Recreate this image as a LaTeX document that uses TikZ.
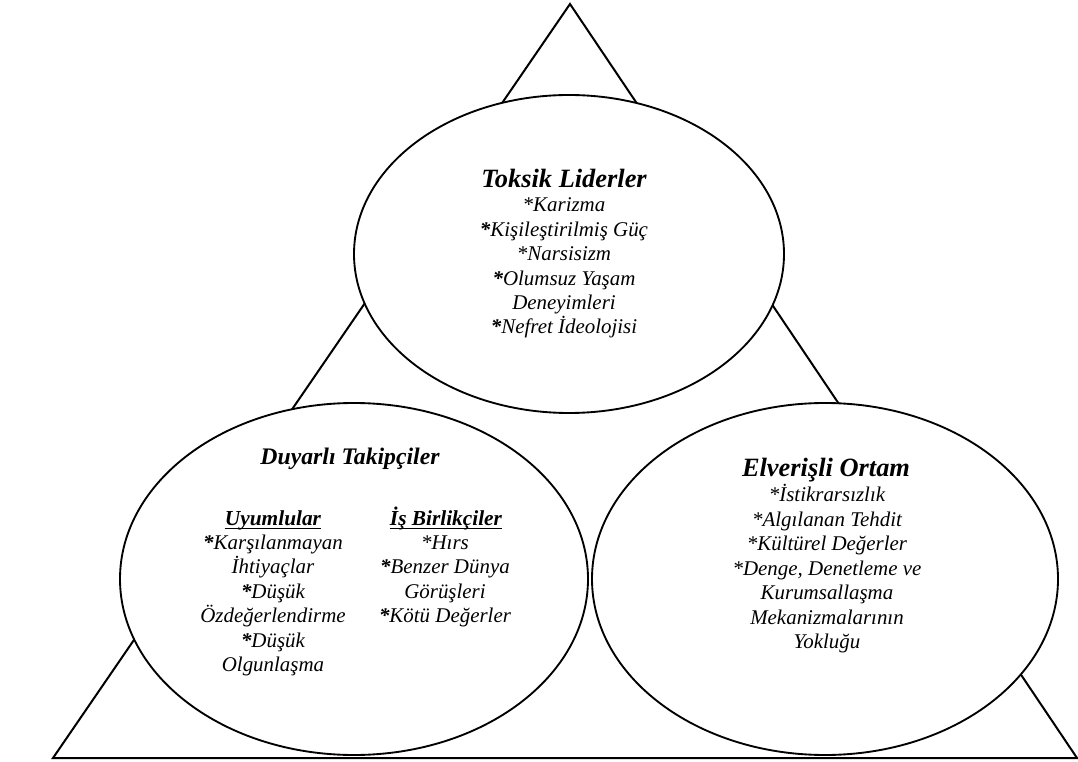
\documentclass[tikz,border=0pt]{standalone}
\usepackage{fontspec}
\setmainfont{Liberation Serif}
\newcommand{\bstar}{\textbf{*}}
\tikzset{
  bubble/.style={fill=white, draw, line width=1.4pt},
  titletext/.style={font=\fontsize{19.8}{22}\selectfont\bfseries\itshape, anchor=base, inner sep=0pt},
  subtitletext/.style={font=\fontsize{17.8}{20}\selectfont\bfseries\itshape, anchor=base, inner sep=0pt},
  headtext/.style={font=\fontsize{16}{18}\selectfont\bfseries\itshape, anchor=base, inner sep=0pt},
  entrytext/.style={font=\fontsize{15.7}{18}\selectfont\itshape, anchor=base, inner sep=0pt}
}
\begin{document}
\begin{tikzpicture}[x=0.75pt,y=-0.75pt]
    \useasboundingbox (0,0) rectangle (1078,762);

    % Draw the triangle
    \draw[line width=1.5pt] (53,758) -- (1077,758) -- (570,4) -- cycle;

    % Draw the three ellipses on top of it
    \path[bubble] (569,254) ellipse (215 and 159);
    \path[bubble] (354,579) ellipse (234 and 176);
    \path[bubble] (825,579) ellipse (233 and 176);

    % Top ellipse
    \node[titletext] (leaders) at (564,188) {Toksik Liderler};
    \foreach \t [count=\i from 0] in {*Karizma, \bstar Kişileştirilmiş Güç, *Narsisizm,
        \bstar Olumsuz Yaşam, Deneyimleri, \bstar Nefret İdeolojisi}
        \node[entrytext] (leaders-\i) at (564,{212+24.4*\i}) {\t};

    % Left ellipse
    \node[subtitletext] (followers) at (350,465) {Duyarlı Takipçiler};
    \node[headtext] (conformers) at (273,526) {Uyumlular};
    \node[headtext] (colluders) at (446,526) {İş Birlikçiler};
    \draw[line width=0.8pt] ([yshift=-2.2pt]conformers.base west) -- ([yshift=-2.2pt]conformers.base east);
    \draw[line width=0.8pt] ([yshift=-2.2pt]colluders.base west) -- ([yshift=-2.2pt]colluders.base east);
    \foreach \t [count=\i from 0] in {\bstar Karşılanmayan, İhtiyaçlar, \bstar Düşük,
        Özdeğerlendirme, \bstar Düşük, Olgunlaşma}
        \node[entrytext] (conformers-\i) at (273,{549+24.5*\i}) {\t};
    \foreach \t [count=\i from 0] in {*Hırs, \bstar Benzer Dünya, Görüşleri, \bstar Kötü Değerler}
        \node[entrytext] (colluders-\i) at (445,{549+24.5*\i}) {\t};

    % Right ellipse
    \node[titletext] (environment) at (826,477) {Elverişli Ortam};
    \foreach \t [count=\i from 0] in {*İstikrarsızlık, *Algılanan Tehdit, *Kültürel Değerler,
        {*Denge, Denetleme ve}, Kurumsallaşma, Mekanizmalarının, Yokluğu}
        \node[entrytext] (environment-\i) at (827,{502+24.4*\i}) {\t};

\end{tikzpicture}
\end{document}
